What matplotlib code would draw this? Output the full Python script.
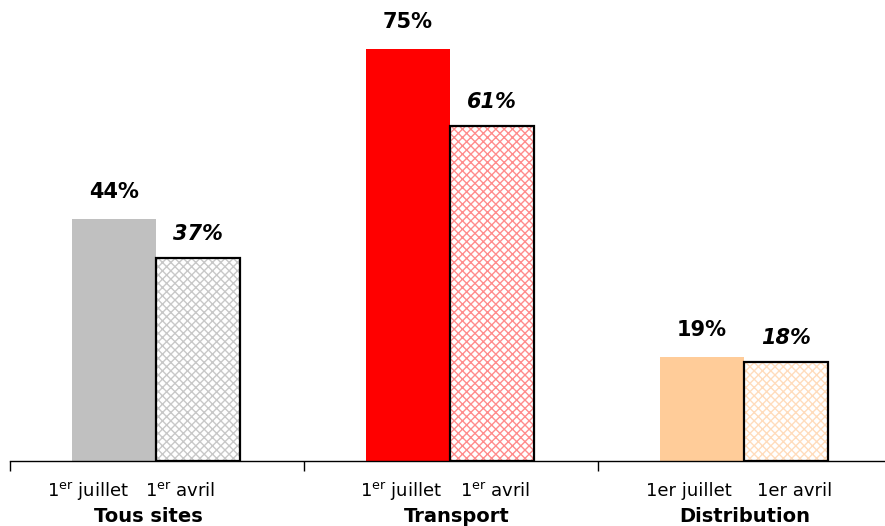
import matplotlib
matplotlib.use("Agg")
import matplotlib.pyplot as plt

plt.rcParams['font.family'] = ['DejaVu Sans']
plt.rcParams['mathtext.fontset'] = 'dejavusans'

categories = ["Tous sites", "Transport", "Distribution"]
juillet = [44, 75, 19]
avril = [37, 61, 18]
juillet_labels = [r"1$^{\mathrm{er}}$ juillet", r"1$^{\mathrm{er}}$ juillet", "1er juillet"]
avril_labels = [r"1$^{\mathrm{er}}$ avril", r"1$^{\mathrm{er}}$ avril", "1er avril"]

solid_colors = ["#c0c0c0", "#ff0000", "#ffcc99"]
hatch_colors = ["#c8c8c8", "#ff8c8c", "#ffdcbc"]

fig = plt.figure(figsize=(8.85, 5.26), dpi=100)
ax = fig.add_axes([10 / 885, 65 / 526, 882 / 885, 440 / 526])
ax.set_xlim(0, 3)
ax.set_ylim(0, 80)

w = 0.286
plt.rcParams['hatch.linewidth'] = 1.0
# horizontal offsets of the tick labels and group names within each group
jl_off = [-0.235, -0.17, -0.19]
al_off = [0.08, 0.15, 0.17]
cat_off = [-0.03, 0.02, 0.0]
for i, (cat, j, a) in enumerate(zip(categories, juillet, avril)):
    c = i + 0.5
    xj = c - w / 2 - 0.003
    xa = c + w / 2 - 0.003
    ax.bar(xj, j, width=w, color=solid_colors[i], linewidth=0)
    ax.bar(xa, a, width=w, color="white", edgecolor=hatch_colors[i],
           hatch="xxxx", linewidth=0)
    ax.bar(xa, a, width=w, fill=False, edgecolor="black", linewidth=1.6)
    ax.annotate(f"{j}%", (xj, j), xytext=(0, 12), textcoords="offset points",
                ha="center", va="bottom", fontsize=15, fontweight="bold")
    ax.annotate(f"{a}%", (xa, a), xytext=(0, 10), textcoords="offset points",
                ha="center", va="bottom", fontsize=15, fontweight="bold",
                style="italic")
    ax.text(c + jl_off[i], -5.5, juillet_labels[i], ha="center", va="center",
            fontsize=13)
    ax.text(c + al_off[i], -5.5, avril_labels[i], ha="center", va="center",
            fontsize=13)
    ax.text(c + cat_off[i], -10, cat, ha="center", va="center", fontsize=14,
            fontweight="bold")

for s in ["top", "right", "left"]:
    ax.spines[s].set_visible(False)
ax.spines["bottom"].set_linewidth(1.0)
ax.set_yticks([])
ax.set_xticks([0, 1, 2, 3])
ax.set_xticklabels([])
ax.tick_params(axis="x", direction="out", length=7, width=1.0)

fig.savefig("out.png", dpi=100)
